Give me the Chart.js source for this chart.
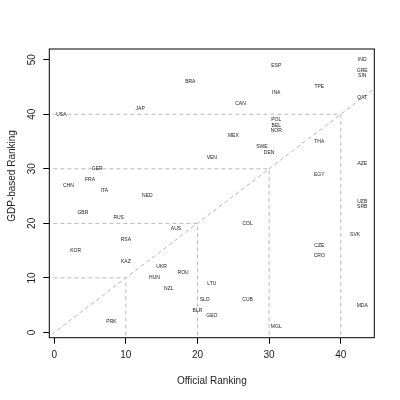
<!DOCTYPE html>
<html>
<head>
<meta charset="utf-8">
<script src="https://cdn.jsdelivr.net/npm/chart.js@4"></script>
<style>
  html, body { margin: 0; padding: 0; background: #fff; }
  #wrap { width: 400px; height: 400px; }
</style>
</head>
<body>
<div id="wrap"><canvas id="rankChart" width="400" height="400"></canvas></div>
<script>
// country codes with official (medal table) rank and GDP-based rank
const codes = ['IND','ESP','GRE','SIN','BRA','TPE','INA','QAT','CAN','JAP',
  'USA','POL','BEL','NOR','MEX','THA','SWE','DEN','VEN','AZE',
  'GER','EGY','FRA','CHN','ITA','NED','UZB','SRB','GBR','RUS',
  'COL','AUS','SVK','RSA','CZE','KOR','CRO','KAZ','UKR','ROU',
  'HUN','LTU','NZL','SLO','CUB','MDA','BLR','GEO','PRK','MGL'];
const official = [43,31,43,43,19,37,31,43,26,12,
  1,31,31,31,25,37,29,30,22,43,
  6,37,5,2,7,13,43,43,4,9,
  27,17,42,10,37,3,37,10,15,18,
  14,22,16,21,27,43,20,22,8,31];
const gdpRank = [50,49,48,47,46,45,44,43,42,41,
  40,39,38,37,36,35,34,33,32,31,
  30,29,28,27,26,25,24,23,22,21,
  20,19,18,17,16,15,14,13,12,11,
  10,9,8,6,6,5,4,3,2,1];

const xTicks = [0, 10, 20, 30, 40];
const yTicks = [0, 10, 20, 30, 40, 50];
const guideLevels = [10, 20, 30, 40];
const xRange = [-0.68, 44.68];
const yRange = [-0.96, 51.96];

const points = codes.map((c, i) => ({ x: official[i], y: gdpRank[i] }));

const dashed = { borderColor: '#b8b8b8', borderWidth: 1, borderDash: [4, 3],
  pointRadius: 0, showLine: true, fill: false, tension: 0 };

const datasets = [
  Object.assign({ data: [{ x: -5, y: -5 }, { x: 50, y: 50 }] }, dashed)
];
guideLevels.forEach(k => {
  datasets.push(Object.assign({
    data: [{ x: -5, y: k }, { x: k, y: k }, { x: k, y: -5 }]
  }, dashed));
});
datasets.push({ data: points, pointRadius: 0, showLine: false, isLabels: true });

const labelPlugin = {
  id: 'labels',
  afterDatasetsDraw(chart) {
    const ctx = chart.ctx;
    const idx = chart.data.datasets.findIndex(d => d.isLabels);
    const meta = chart.getDatasetMeta(idx);
    ctx.save();
    ctx.fillStyle = '#222';
    ctx.font = '5px "Liberation Sans", Arial, sans-serif';
    ctx.textAlign = 'center';
    ctx.textBaseline = 'middle';
    meta.data.forEach((el, i) => ctx.fillText(codes[i], el.x, el.y));
    ctx.restore();
  },
  afterDraw(chart) {
    const ctx = chart.ctx;
    const a = chart.chartArea;
    const ys = chart.scales.y;
    ctx.save();
    // box round the plot
    ctx.strokeStyle = '#000';
    ctx.lineWidth = 1;
    ctx.strokeRect(a.left, a.top, a.right - a.left, a.bottom - a.top);
    // y tick labels, rotated like R
    ctx.fillStyle = '#222';
    ctx.font = '10px "Liberation Sans", Arial, sans-serif';
    ctx.textAlign = 'center';
    ctx.textBaseline = 'middle';
    yTicks.forEach(v => {
      ctx.save();
      ctx.translate(a.left - 17.5, ys.getPixelForValue(v));
      ctx.rotate(-Math.PI / 2);
      ctx.fillText(String(v), 0, 0);
      ctx.restore();
    });
    // y title
    ctx.save();
    ctx.translate(12.5, 176);
    ctx.rotate(-Math.PI / 2);
    ctx.fillText('GDP-based Ranking', 0, 0);
    ctx.restore();
    ctx.restore();
  }
};

Chart.defaults.font.family = '"Liberation Sans", Arial, sans-serif';
Chart.defaults.color = '#222';

new Chart(document.getElementById('rankChart').getContext('2d'), {
  type: 'scatter',
  data: { datasets: datasets },
  options: {
    responsive: false,
    animation: false,
    devicePixelRatio: 1,
    layout: { padding: { left: 0, top: 49, right: 25.7, bottom: 0 } },
    plugins: { legend: { display: false }, tooltip: { enabled: false } },
    scales: {
      x: {
        type: 'linear', min: xRange[0], max: xRange[1],
        afterBuildTicks: s => { s.ticks = xTicks.map(v => ({ value: v })); },
        afterFit: s => { s.height = 62.3; },
        border: { display: false },
        grid: { drawOnChartArea: false, drawTicks: true, tickLength: 6, color: '#000' },
        ticks: { font: { size: 10 }, padding: 6, maxRotation: 0 },
        title: { display: true, text: 'Official Ranking', font: { size: 10 }, padding: { top: 0, bottom: 13 } }
      },
      y: {
        type: 'linear', min: yRange[0], max: yRange[1],
        afterBuildTicks: s => { s.ticks = yTicks.map(v => ({ value: v })); },
        afterFit: s => { s.width = 49.3; },
        border: { display: false },
        grid: { drawOnChartArea: false, drawTicks: true, tickLength: 6, color: '#000' },
        ticks: { color: 'rgba(0,0,0,0)', font: { size: 10 } }
      }
    }
  },
  plugins: [labelPlugin]
});
</script>
</body>
</html>
